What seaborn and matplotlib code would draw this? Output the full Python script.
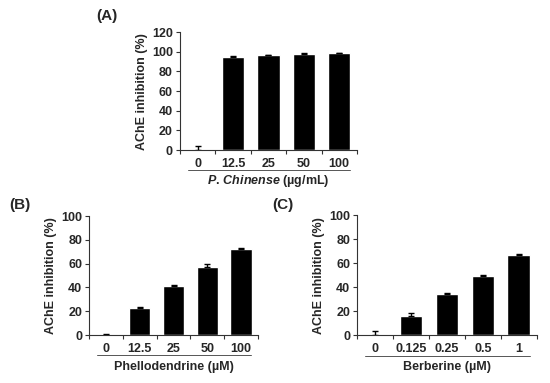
import numpy as np
import matplotlib
matplotlib.use("Agg")
import matplotlib.pyplot as plt
import seaborn as sns

# ---- data ----
a_labels = ["0", "12.5", "25", "50", "100"]
a_values = [0.0, 94.5, 96.5, 98.0, 98.5]
a_errors = [4.0, 1.2, 0.6, 0.6, 0.4]

b_labels = ["0", "12.5", "25", "50", "100"]
b_values = [0.5, 23.0, 41.0, 57.0, 72.0]
b_errors = [0.6, 1.0, 1.5, 2.5, 1.5]

c_labels = ["0", "0.125", "0.25", "0.5", "1"]
c_values = [0.0, 16.0, 34.5, 49.0, 66.5]
c_errors = [3.5, 2.5, 1.0, 0.8, 1.0]

sns.set_style("white")
plt.rcParams["font.family"] = ["Liberation Sans", "DejaVu Sans"]
plt.rcParams["mathtext.fontset"] = "custom"
plt.rcParams["mathtext.it"] = "Liberation Sans:bold:italic"
plt.rcParams["mathtext.rm"] = "Liberation Sans:bold"

fig = plt.figure(figsize=(5.5, 3.83), dpi=100)

ax_a = fig.add_axes([0.327, 0.608, 0.322, 0.308])
ax_b = fig.add_axes([0.162, 0.125, 0.307, 0.311])
ax_c = fig.add_axes([0.649, 0.125, 0.327, 0.313])

FS = 9


def draw_panel(ax, labels, values, errors, ymax, step, xlabel):
    sns.barplot(x=labels, y=values, color="black", width=0.63,
                saturation=1, ax=ax, order=labels)
    ax.errorbar(range(len(labels)), values,
                yerr=[np.zeros(len(errors)), errors],
                fmt="none", ecolor="black", elinewidth=1, capsize=2.5, capthick=1)
    ax.set_xlim(-0.5, len(labels) - 0.5)
    ax.set_ylim(0, ymax)
    ax.set_yticks(np.arange(0, ymax + 1, step))
    ax.set_xticks(np.arange(-0.5, len(labels), 1.0), minor=True)
    ax.tick_params(axis="x", which="major", length=0, pad=6, labelsize=FS)
    ax.tick_params(axis="x", which="minor", length=3, width=0.8, direction="out",
                   bottom=True, color="#333333")
    ax.tick_params(axis="y", length=3, width=0.8, direction="out", left=True,
                   labelsize=FS, pad=2, color="#333333")
    for lab in ax.get_xticklabels() + ax.get_yticklabels():
        lab.set_fontweight("bold")
    sns.despine(ax=ax)
    for side in ["left", "bottom"]:
        ax.spines[side].set_linewidth(0.8)
        ax.spines[side].set_color("#333333")
    ax.set_ylabel("AChE inhibition (%)", fontsize=FS, fontweight="bold", labelpad=3)
    ax.set_xlabel("")
    # line under the tick labels
    ax.plot([0.045, 0.96], [-0.17, -0.17], transform=ax.transAxes,
            color="#555555", lw=0.7, clip_on=False)
    ax.text(0.5, -0.265, xlabel, transform=ax.transAxes, ha="center", va="center",
            fontsize=FS, fontweight="bold")


draw_panel(ax_a, a_labels, a_values, a_errors, 120, 20,
           r"$\it{P.\,Chinense}$ (µg/mL)")
draw_panel(ax_b, b_labels, b_values, b_errors, 100, 20, "Phellodendrine (µM)")
draw_panel(ax_c, c_labels, c_values, c_errors, 100, 20, "Berberine (µM)")

fig.text(107 / 550, 1 - 16 / 383, "(A)", ha="center", va="center",
         fontsize=11, fontweight="bold")
fig.text(20 / 550, 1 - 205 / 383, "(B)", ha="center", va="center",
         fontsize=11, fontweight="bold")
fig.text(283 / 550, 1 - 205 / 383, "(C)", ha="center", va="center",
         fontsize=11, fontweight="bold")

fig.savefig("out.png", dpi=100, facecolor="white")
